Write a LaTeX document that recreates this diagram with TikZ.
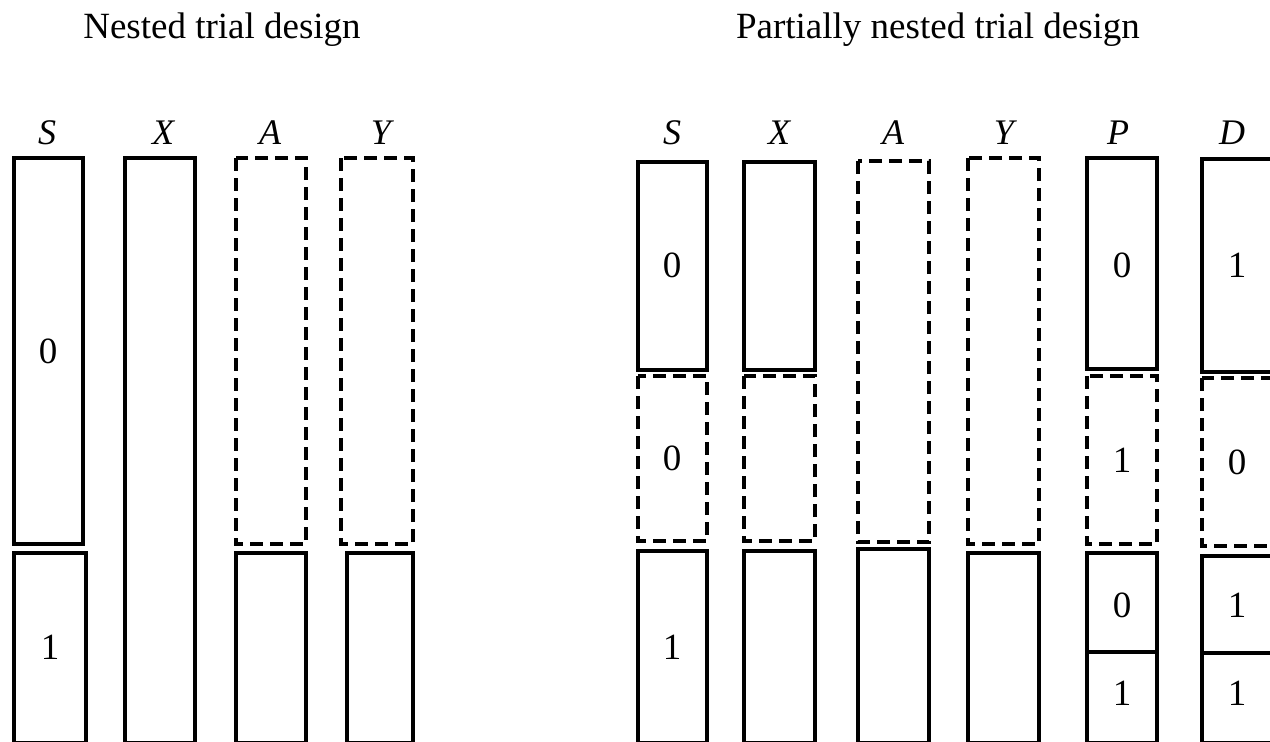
\documentclass[tikz,border=0pt]{standalone}
\usepackage{fontspec}
\setmainfont{Liberation Serif}
\NewDocumentCommand\DrawBar{O{}mmmm}%
{%
\draw[bar,#1] ({#2},{#3}) rectangle ({#4},{#5});%
}

\begin{document}
\begin{tikzpicture}[x=1pt,y=-1pt,
  bar/.style={line width=3.4pt},
  open/.style={dash pattern=on 13pt off 7pt},
  lab/.style={font=\fontsize{36}{40}\selectfont\itshape},
  num/.style={font=\fontsize{37}{40}\selectfont},
  ttl/.style={font=\fontsize{37}{42}\selectfont}]
\clip (0,0) rectangle (1270,742);
% nested trial design
\node[ttl] (ttl1) at (222,30) {Nested trial design};
\node[lab] (s1) at (47,133) {S};
\node[lab] (x1) at (163,133) {X};
\node[lab] (a1) at (270,133) {A};
\node[lab] (y1) at (381,133) {Y};
\DrawBar{14}{158}{83}{544}
\DrawBar{14}{553}{86}{743}
\DrawBar{125}{158}{195}{743}
\DrawBar[open]{236}{158}{306}{544}
\DrawBar{236}{553}{306}{743}
\DrawBar[open]{341}{158}{413}{544}
\DrawBar{347}{553}{413}{743}
\node[num] (s1a) at (48,351) {0};
\node[num] (s1b) at (50,647) {1};
% partially nested trial design
\node[ttl] (ttl2) at (938,30) {Partially nested trial design};
\node[lab] (s2) at (672,133) {S};
\node[lab] (x2) at (779,133) {X};
\node[lab] (a2) at (893,133) {A};
\node[lab] (y2) at (1004,133) {Y};
\node[lab] (p2) at (1118,133) {P};
\node[lab] (d2) at (1232,133) {D};
\DrawBar{638}{162}{707}{370}
\DrawBar[open]{638}{376}{707}{541}
\DrawBar{638}{551}{707}{743}
\DrawBar{744}{162}{815}{370}
\DrawBar[open]{744}{376}{815}{541}
\DrawBar{744}{551}{815}{743}
\DrawBar[open]{858}{161}{929}{542}
\DrawBar{858}{549}{929}{743}
\DrawBar[open]{968}{158}{1039}{544}
\DrawBar{968}{553}{1039}{743}
\DrawBar{1087}{158}{1157}{369}
\DrawBar[open]{1087}{376}{1157}{544}
\DrawBar{1087}{553}{1157}{652}
\DrawBar{1087}{652}{1157}{743}
\DrawBar{1202}{159}{1290}{372}
\DrawBar[open]{1202}{378}{1290}{546}
\DrawBar{1202}{556}{1290}{653}
\DrawBar{1202}{653}{1290}{743}
\node[num] (s2a) at (672,265) {0};
\node[num] (s2b) at (672,458) {0};
\node[num] (s2c) at (672,647) {1};
\node[num] (p2a) at (1122,265) {0};
\node[num] (p2b) at (1122,460) {1};
\node[num] (p2c) at (1122,605) {0};
\node[num] (p2d) at (1122,693) {1};
\node[num] (d2a) at (1237,265) {1};
\node[num] (d2b) at (1237,462) {0};
\node[num] (d2c) at (1237,605) {1};
\node[num] (d2d) at (1237,693) {1};
\end{tikzpicture}
\end{document}
